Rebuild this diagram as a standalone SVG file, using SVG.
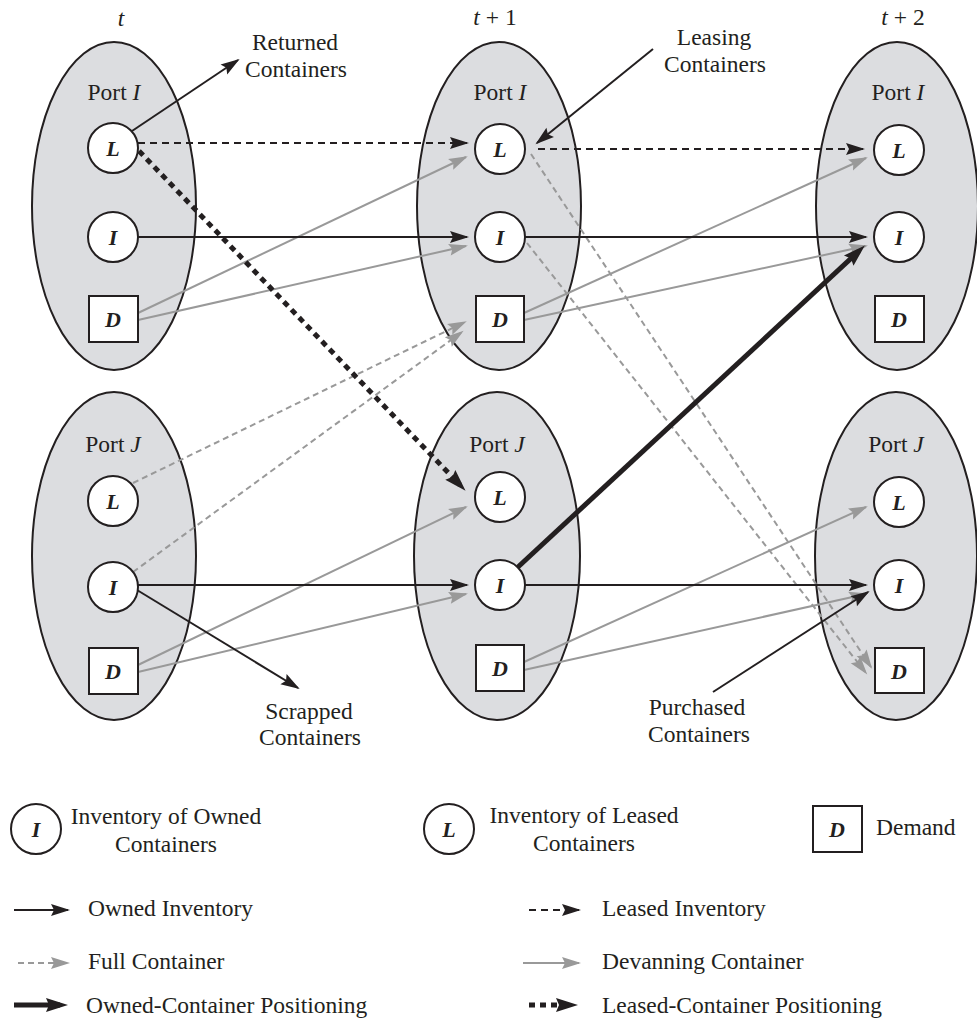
<svg xmlns="http://www.w3.org/2000/svg" width="977" height="1022" viewBox="0 0 977 1022">
<style>
text{font-family:"Liberation Serif","Times New Roman",serif;font-size:23.5px;fill:#231f20}
.c{text-anchor:middle}
.it{font-style:italic}
.nl{font-weight:bold;font-style:italic;text-anchor:middle;font-size:22px}
.port{fill:#dcdde0;stroke:#231f20;stroke-width:2}
.nd{fill:#fff;stroke:#231f20;stroke-width:2}
.blk{fill:none;stroke:#231f20;stroke-width:2;marker-end:url(#ab)}
.bdash{fill:none;stroke:#231f20;stroke-width:2;stroke-dasharray:7 5;marker-end:url(#ab)}
.bdot{fill:none;stroke:#231f20;stroke-width:5;stroke-dasharray:6 5;marker-end:url(#abt)}
.bthk{fill:none;stroke:#231f20;stroke-width:5;marker-end:url(#abt)}
.gry{fill:none;stroke:#999;stroke-width:2;marker-end:url(#ag)}
.gdash{fill:none;stroke:#999;stroke-width:2;stroke-dasharray:6 4;marker-end:url(#ag)}
</style>
<defs>
<marker id="ab" markerUnits="userSpaceOnUse" markerWidth="20" markerHeight="14" refX="17" refY="6" orient="auto" overflow="visible">
<path d="M0,0 L19,6 L0,12 L3,6 Z" fill="#231f20"/>
</marker>
<marker id="abt" markerUnits="userSpaceOnUse" markerWidth="24" markerHeight="16" refX="14" refY="7" orient="auto" overflow="visible">
<path d="M0,0 L22,7 L0,14 L3,7 Z" fill="#231f20"/>
</marker>
<marker id="ag" markerUnits="userSpaceOnUse" markerWidth="20" markerHeight="14" refX="17" refY="6" orient="auto" overflow="visible">
<path d="M0,0 L19,6 L0,12 L3,6 Z" fill="#999"/>
</marker>
</defs>

<!-- time labels -->
<g id="time-labels">
<text x="121" y="26" class="c it">t</text>
<text x="495" y="25" class="c"><tspan class="it">t</tspan> + 1</text>
<text x="903" y="25" class="c"><tspan class="it">t</tspan> + 2</text>
</g>

<!-- ports -->
<g id="port-t-I"><ellipse cx="114" cy="206" rx="82" ry="164" class="port"/><text x="114" y="100" class="c">Port <tspan class="it">I</tspan></text></g>
<g id="port-t1-I"><ellipse cx="499" cy="206" rx="82" ry="164" class="port"/><text x="500" y="100" class="c">Port <tspan class="it">I</tspan></text></g>
<g id="port-t2-I"><ellipse cx="897" cy="206" rx="81" ry="164" class="port"/><text x="898" y="100" class="c">Port <tspan class="it">I</tspan></text></g>
<g id="port-t-J"><ellipse cx="114" cy="556" rx="82" ry="164" class="port"/><text x="113" y="452" class="c">Port <tspan class="it">J</tspan></text></g>
<g id="port-t1-J"><ellipse cx="497" cy="556" rx="83" ry="164" class="port"/><text x="497" y="452" class="c">Port <tspan class="it">J</tspan></text></g>
<g id="port-t2-J"><ellipse cx="896" cy="556" rx="81" ry="164" class="port"/><text x="896" y="452" class="c">Port <tspan class="it">J</tspan></text></g>

<!-- connectors -->
<g id="connectors">
<path class="gdash" d="M133,483 L465,322"/>
<path class="gdash" d="M133,572 L462,332"/>
<path class="gdash" d="M531,154 L871,667"/>
<path class="gdash" d="M527,243 L866,673"/>
<path class="gry" d="M138,313 L466,157"/>
<path class="gry" d="M138,320 L466,246"/>
<path class="gry" d="M524,313 L866,158"/>
<path class="gry" d="M524,320 L866,246"/>
<path class="gry" d="M138,665 L466,507"/>
<path class="gry" d="M138,672 L466,594"/>
<path class="gry" d="M524,662 L866,507"/>
<path class="gry" d="M524,670 L866,594"/>
<path class="blk" d="M132,131 L238,60"/>
<path class="blk" d="M138,237 L467,237"/>
<path class="blk" d="M525,237 L866,237"/>
<path class="blk" d="M138,585 L467,585"/>
<path class="blk" d="M525,585 L866,585"/>
<path class="blk" d="M137,590 L298,688"/>
<path class="blk" d="M653,49 L537,143"/>
<path class="blk" d="M713,692 L868,592"/>
<path class="bdash" d="M138,143 L467,143"/>
<path class="bdash" d="M538,149 L863,149"/>
<path class="bdot" d="M139,151 L460,485"/>
<path class="bthk" d="M518,567 L859,251"/>
</g>

<!-- external labels -->
<g id="label-returned"><text x="295" y="50" class="c">Returned</text><text x="296" y="77" class="c">Containers</text></g>
<g id="label-leasing"><text x="714" y="45" class="c">Leasing</text><text x="715" y="72" class="c">Containers</text></g>
<g id="label-scrapped"><text x="309" y="719" class="c">Scrapped</text><text x="310" y="745" class="c">Containers</text></g>
<g id="label-purchased"><text x="697" y="715" class="c">Purchased</text><text x="699" y="742" class="c">Containers</text></g>

<!-- nodes: time t, port I -->
<g id="n-t-I-L"><circle cx="113" cy="148" r="25" class="nd"/><text x="113" y="156" class="nl">L</text></g>
<g id="n-t-I-I"><circle cx="113" cy="237" r="25" class="nd"/><text x="113" y="245" class="nl">I</text></g>
<g id="n-t-I-D"><rect x="89" y="296" width="49" height="46" class="nd"/><text x="113" y="327" class="nl">D</text></g>
<g id="n-t1-I-L"><circle cx="500" cy="149" r="25" class="nd"/><text x="500" y="157" class="nl">L</text></g>
<g id="n-t1-I-I"><circle cx="500" cy="237" r="25" class="nd"/><text x="500" y="245" class="nl">I</text></g>
<g id="n-t1-I-D"><rect x="476" y="296" width="48" height="46" class="nd"/><text x="500" y="327" class="nl">D</text></g>
<g id="n-t2-I-L"><circle cx="899" cy="150" r="25" class="nd"/><text x="899" y="158" class="nl">L</text></g>
<g id="n-t2-I-I"><circle cx="899" cy="237" r="25" class="nd"/><text x="899" y="245" class="nl">I</text></g>
<g id="n-t2-I-D"><rect x="875" y="296" width="49" height="46" class="nd"/><text x="899" y="327" class="nl">D</text></g>
<!-- port J -->
<g id="n-t-J-L"><circle cx="113" cy="501" r="25" class="nd"/><text x="113" y="509" class="nl">L</text></g>
<g id="n-t-J-I"><circle cx="113" cy="587" r="25" class="nd"/><text x="113" y="595" class="nl">I</text></g>
<g id="n-t-J-D"><rect x="89" y="648" width="49" height="46" class="nd"/><text x="113" y="679" class="nl">D</text></g>
<g id="n-t1-J-L"><circle cx="500" cy="497" r="25" class="nd"/><text x="500" y="505" class="nl">L</text></g>
<g id="n-t1-J-I"><circle cx="500" cy="585" r="25" class="nd"/><text x="500" y="593" class="nl">I</text></g>
<g id="n-t1-J-D"><rect x="476" y="645" width="48" height="46" class="nd"/><text x="500" y="676" class="nl">D</text></g>
<g id="n-t2-J-L"><circle cx="899" cy="502" r="25" class="nd"/><text x="899" y="510" class="nl">L</text></g>
<g id="n-t2-J-I"><circle cx="899" cy="585" r="25" class="nd"/><text x="899" y="593" class="nl">I</text></g>
<g id="n-t2-J-D"><rect x="875" y="648" width="49" height="45" class="nd"/><text x="899" y="679" class="nl">D</text></g>

<!-- legend -->
<g id="legend">
<g id="leg-owned"><circle cx="36" cy="829" r="25" class="nd"/><text x="36" y="837" class="nl">I</text><text x="166" y="824" class="c">Inventory of Owned</text><text x="166" y="852" class="c">Containers</text></g>
<g id="leg-leased"><circle cx="449" cy="829" r="25" class="nd"/><text x="449" y="837" class="nl">L</text><text x="584" y="823" class="c">Inventory of Leased</text><text x="584" y="851" class="c">Containers</text></g>
<g id="leg-demand"><rect x="813" y="806" width="49" height="46" class="nd"/><text x="837" y="837" class="nl">D</text><text x="876" y="835">Demand</text></g>
<path class="blk" d="M14,910 L68,910"/><text x="88" y="916">Owned Inventory</text>
<path class="gdash" d="M18,963 L68,963"/><text x="88" y="969">Full Container</text>
<path class="bthk" d="M14,1005 L60,1005"/><text x="86" y="1013">Owned-Container Positioning</text>
<path class="bdash" d="M529,910 L579,910"/><text x="602" y="916">Leased Inventory</text>
<path class="gry" d="M523,963 L579,963"/><text x="602" y="969">Devanning Container</text>
<path class="bdot" d="M529,1005 L570,1005"/><text x="602" y="1013">Leased-Container Positioning</text>
</g>
</svg>
